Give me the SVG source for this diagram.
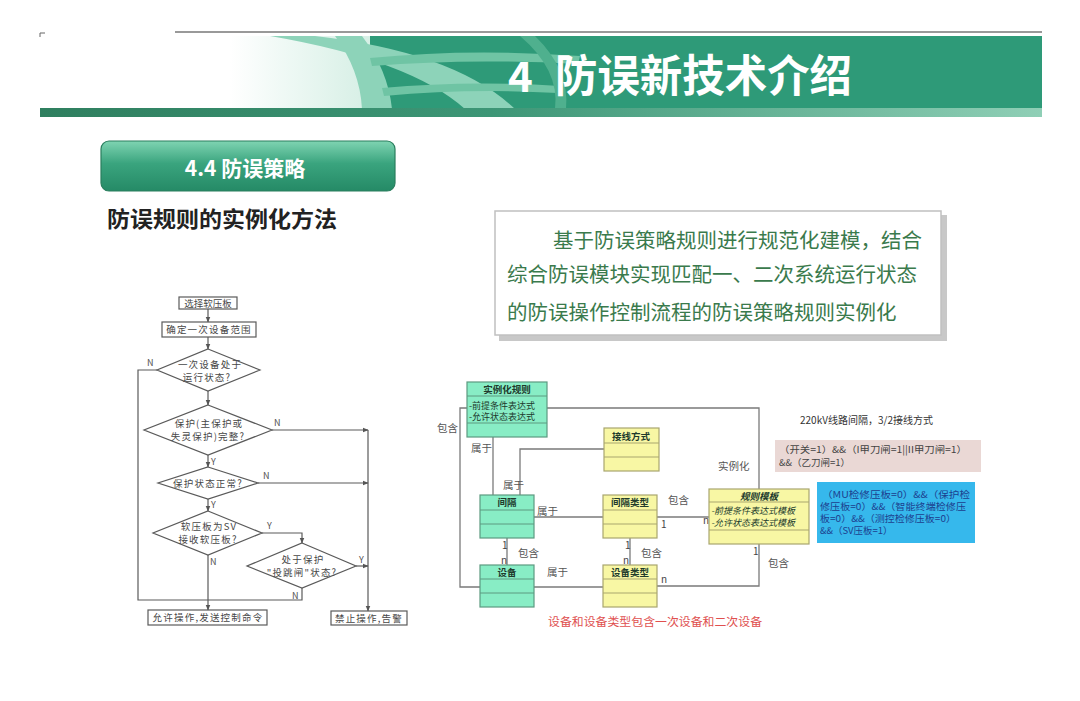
<svg xmlns="http://www.w3.org/2000/svg" width="1080" height="701" viewBox="0 0 1080 701">
<defs>
<linearGradient id="ban" x1="0" y1="0" x2="0" y2="1">
<stop offset="0" stop-color="#7fd4b2"/><stop offset="0.45" stop-color="#3aa47e"/><stop offset="1" stop-color="#258a66"/>
</linearGradient>
<linearGradient id="bar" x1="0" y1="0" x2="1" y2="0">
<stop offset="0" stop-color="#2f7f5f"/><stop offset="0.45" stop-color="#3d9676"/><stop offset="1" stop-color="#8fcfb6"/>
</linearGradient>
<linearGradient id="fade" x1="0" y1="0" x2="1" y2="0">
<stop offset="0" stop-color="#ffffff"/><stop offset="1" stop-color="#d6efe5"/>
</linearGradient>
<marker id="ar" viewBox="0 0 10 10" refX="9" refY="5" markerWidth="5" markerHeight="5" orient="auto">
<path d="M0,1 L10,5 L0,9 z" fill="#555"/>
</marker>
<clipPath id="hc"><rect x="40" y="36" width="1002" height="73"/></clipPath>
</defs>
<style>
text{font-family:"Noto Sans CJK SC","Noto Sans",sans-serif}
.fl{fill:none;stroke:#5a5a5a;stroke-width:1.2}
.ft{font-size:9.5px;fill:#474747;text-anchor:middle;letter-spacing:1.2px}
.lb{font-size:9px;fill:#505050}
.cn{fill:none;stroke:#7a7a7a;stroke-width:1.3}
.g{fill:#88edc5;stroke:#5d9a80;stroke-width:1.2}
.y{fill:#f8f7a4;stroke:#a9a66f;stroke-width:1.2}
.sep{stroke:#5d9a80;stroke-width:1}
.sepy{stroke:#a9a66f;stroke-width:1}
.ut{font-size:9.5px;font-weight:bold;fill:#203a2c;text-anchor:middle}
.ua{font-size:9px;fill:#203a2c}
.ul{font-size:10.5px;fill:#555}
.m{font-size:10px;fill:#444}
.tb{font-size:20.5px;fill:#3a7a4c}
.bt{font-size:9.5px;fill:#1d3f8f}
</style>
<rect width="1080" height="701" fill="#ffffff"/>

<g id="header">
<line x1="175" y1="32" x2="1042" y2="32" stroke="#777" stroke-width="1.5"/>
<path d="M40,33 h5 M40,33 v4" stroke="#666" stroke-width="1"/>
<g clip-path="url(#hc)">
<rect x="230" y="36" width="140" height="73" fill="url(#fade)"/>
<rect x="370" y="36" width="672" height="73" fill="#2e9a78"/>
<path d="M270,36 Q410,60 465,109 L515,109 Q455,52 315,36 z" fill="#8dd3b9"/>
<path d="M335,36 Q360,70 362,109 L392,109 Q388,70 362,36 z" fill="#8dd3b9"/>
<path d="M370,58 Q470,48 580,56 L578,64 Q470,58 372,66 z" fill="#6fc4a4"/>
<path d="M382,88 Q470,80 560,86 L558,93 Q470,88 384,96 z" fill="#6fc4a4"/>
<path d="M520,36 Q560,70 555,109 L566,109 Q570,70 535,36 z" fill="#4fb08e"/>
</g>
<rect x="40" y="108" width="1002" height="9" fill="url(#bar)"/>
<text x="508" y="92" font-size="42" font-weight="bold" fill="#ffffff">4</text>
<text x="555" y="92" font-size="44" font-weight="bold" fill="#ffffff" textLength="297" lengthAdjust="spacingAndGlyphs">防误新技术介绍</text>
</g>

<g id="banner">
<rect x="101" y="141" width="294" height="50" rx="8" fill="url(#ban)" stroke="#2a7e5e" stroke-width="1.2"/>
<text x="245" y="176" font-size="21" font-weight="bold" fill="#ffffff" text-anchor="middle">4.4 防误策略</text>
</g>
<text x="107" y="227" font-size="22" font-weight="bold" fill="#222" textLength="230" lengthAdjust="spacingAndGlyphs">防误规则的实例化方法</text>

<g id="textbox">
<rect x="499" y="215" width="448" height="126" fill="#c8c8c8"/>
<rect x="495" y="211" width="446" height="124" fill="#ffffff" stroke="#c0c0c0" stroke-width="1.5"/>
<text class="tb" x="553" y="248">基于防误策略规则进行规范化建模，结合</text>
<text class="tb" x="507" y="282">综合防误模块实现匹配一、二次系统运行状态</text>
<text class="tb" x="507" y="320">的防误操作控制流程的防误策略规则实例化</text>
</g>

<g id="flowchart">
<g id="fc-connectors">
<line class="fl" x1="208" y1="309" x2="208" y2="322" marker-end="url(#ar)"/>
<line class="fl" x1="208" y1="337" x2="208" y2="349" marker-end="url(#ar)"/>
<polyline class="fl" points="157,370 138,370 138,600 302,600 302,588"/>
<line class="fl" x1="208" y1="391" x2="208" y2="405" marker-end="url(#ar)"/>
<line class="fl" x1="272" y1="430" x2="368" y2="430" marker-end="url(#ar)"/>
<line class="fl" x1="368" y1="430" x2="368" y2="611" marker-end="url(#ar)"/>
<line class="fl" x1="208" y1="455" x2="208" y2="467" marker-end="url(#ar)"/>
<line class="fl" x1="258" y1="483" x2="368" y2="483" marker-end="url(#ar)"/>
<line class="fl" x1="208" y1="499" x2="208" y2="511" marker-end="url(#ar)"/>
<polyline class="fl" points="262,533 302,533 302,543" marker-end="url(#ar)"/>
<line class="fl" x1="356" y1="566" x2="368" y2="566" marker-end="url(#ar)"/>
<line class="fl" x1="208" y1="555" x2="208" y2="610" marker-end="url(#ar)"/>
</g>
<g id="fc-n1"><rect class="fl" x="179" y="297" width="58" height="12" fill="#fff"/><text class="ft" x="208" y="306.5" style="letter-spacing:0">选择软压板</text></g>
<g id="fc-n2"><rect class="fl" x="162" y="322" width="94" height="15" fill="#fff"/><text class="ft" x="209" y="333">确定一次设备范围</text></g>
<g id="fc-d1"><polygon class="fl" points="208,349 260,370 208,391 157,370" fill="#fff"/><text class="ft" x="210" y="368">一次设备处于</text><text class="ft" x="207" y="381">运行状态?</text></g>
<g id="fc-d2"><polygon class="fl" points="208,405 272,430 208,455 144,430" fill="#fff"/><text class="ft" x="209" y="427">保护(主保护或</text><text class="ft" x="208" y="440">失灵保护)完整?</text></g>
<g id="fc-d3"><polygon class="fl" points="208,467 258,483 208,499 158,483" fill="#fff"/><text class="ft" x="208" y="486.5">保护状态正常?</text></g>
<g id="fc-d4"><polygon class="fl" points="208,511 262,533 208,555 153,533" fill="#fff"/><text class="ft" x="209" y="530">软压板为SV</text><text class="ft" x="208" y="543">接收软压板?</text></g>
<g id="fc-d5"><polygon class="fl" points="302,543 356,566 302,588 247,566" fill="#fff"/><text class="ft" x="303" y="563">处于保护</text><text class="ft" x="302" y="576">"投跳闸"状态?</text></g>
<g id="fc-n3"><rect class="fl" x="148" y="610" width="119" height="15" fill="#fff"/><text class="ft" x="208" y="621">允许操作,发送控制命令</text></g>
<g id="fc-n4"><rect class="fl" x="331" y="611" width="76" height="14" fill="#fff"/><text class="ft" x="369" y="621.5">禁止操作,告警</text></g>
<text class="lb" x="147" y="366">N</text>
<text class="lb" x="274" y="426">N</text>
<text class="lb" x="211" y="465">Y</text>
<text class="lb" x="263" y="479">N</text>
<text class="lb" x="211" y="508">Y</text>
<text class="lb" x="267" y="529">Y</text>
<text class="lb" x="210" y="565">N</text>
<text class="lb" x="359" y="563">Y</text>
<text class="lb" x="292" y="599">N</text>
</g>

<g id="uml-connectors">
<polyline class="cn" points="547,408 759,408 759,489"/>
<polyline class="cn" points="467,408 460,408 460,587 480,587"/>
<line class="cn" x1="493" y1="437" x2="493" y2="495"/>
<polyline class="cn" points="520,495 520,449 604,449"/>
<line class="cn" x1="534" y1="517" x2="603" y2="517"/>
<line class="cn" x1="657" y1="517" x2="709" y2="517"/>
<line class="cn" x1="507" y1="538" x2="507" y2="565"/>
<line class="cn" x1="630" y1="538" x2="630" y2="565"/>
<line class="cn" x1="534" y1="587" x2="603" y2="587"/>
<polyline class="cn" points="657,586 759,586 759,544"/>
<text class="ul" x="437" y="432">包含</text>
<text class="ul" x="471" y="452">属于</text>
<text class="ul" x="503" y="489">属于</text>
<text class="ul" x="537" y="515">属于</text>
<text class="ul" x="518" y="557">包含</text>
<text class="ul" x="547" y="576">属于</text>
<text class="ul" x="641" y="557">包含</text>
<text class="ul" x="668" y="504">包含</text>
<text class="ul" x="718" y="470">实例化</text>
<text class="ul" x="768" y="567">包含</text>
<text class="m" x="502" y="549">1</text>
<text class="m" x="501" y="564">n</text>
<text class="m" x="625" y="549">1</text>
<text class="m" x="623" y="564">n</text>
<text class="m" x="661" y="528">1</text>
<text class="m" x="703" y="524">n</text>
<text class="m" x="661" y="583">n</text>
<text class="m" x="753" y="555">1</text>
</g>

<g id="uml-rule">
<rect class="g" x="467" y="382" width="80" height="55"/>
<line class="sep" x1="467" y1="396" x2="547" y2="396"/><line class="sep" x1="467" y1="423" x2="547" y2="423"/>
<text class="ut" x="507" y="393">实例化规则</text>
<text class="ua" x="469" y="408.5">-前提条件表达式</text>
<text class="ua" x="469" y="420">-允许状态表达式</text>
</g>
<g id="uml-wiring">
<rect class="y" x="604" y="428" width="55" height="43"/>
<line class="sepy" x1="604" y1="443" x2="659" y2="443"/><line class="sepy" x1="604" y1="457" x2="659" y2="457"/>
<text class="ut" x="631" y="439.5">接线方式</text>
</g>
<g id="uml-bay">
<rect class="g" x="480" y="495" width="54" height="43"/>
<line class="sep" x1="480" y1="510" x2="534" y2="510"/><line class="sep" x1="480" y1="524" x2="534" y2="524"/>
<text class="ut" x="507" y="506">间隔</text>
</g>
<g id="uml-baytype">
<rect class="y" x="603" y="495" width="54" height="43"/>
<line class="sepy" x1="603" y1="510" x2="657" y2="510"/><line class="sepy" x1="603" y1="524" x2="657" y2="524"/>
<text class="ut" x="630" y="506">间隔类型</text>
</g>
<g id="uml-device">
<rect class="g" x="480" y="565" width="54" height="42"/>
<line class="sep" x1="480" y1="579" x2="534" y2="579"/><line class="sep" x1="480" y1="593" x2="534" y2="593"/>
<text class="ut" x="507" y="576">设备</text>
</g>
<g id="uml-devtype">
<rect class="y" x="603" y="565" width="54" height="42"/>
<line class="sepy" x1="603" y1="579" x2="657" y2="579"/><line class="sepy" x1="603" y1="593" x2="657" y2="593"/>
<text class="ut" x="630" y="576">设备类型</text>
</g>
<g id="uml-template">
<rect class="y" x="709" y="489" width="100" height="55"/>
<line class="sepy" x1="709" y1="502" x2="809" y2="502"/><line class="sepy" x1="709" y1="530" x2="809" y2="530"/>
<text class="ut" x="759" y="499.5" font-style="italic">规则模板</text>
<text class="ua" x="711" y="514" font-style="italic">-前提条件表达式模板</text>
<text class="ua" x="711" y="526" font-style="italic">-允许状态表达式模板</text>
</g>

<g id="example">
<text x="800" y="424" font-size="10" fill="#333">220kV线路间隔，3/2接线方式</text>
<rect x="775" y="440" width="206" height="32" fill="#ead8d5"/>
<text x="779" y="453" font-size="9.5" fill="#444" textLength="188" lengthAdjust="spacingAndGlyphs">（开关=1）&amp;&amp;（I甲刀闸=1||II甲刀闸=1）</text>
<text x="779" y="466" font-size="9.5" fill="#444">&amp;&amp;（乙刀闸=1）</text>
<rect x="817" y="482" width="158" height="61" fill="#36b8ec"/>
<text class="bt" x="822" y="498" textLength="148" lengthAdjust="spacingAndGlyphs">（MU检修压板=0）&amp;&amp;（保护检</text>
<text class="bt" x="820" y="510" textLength="146" lengthAdjust="spacingAndGlyphs">修压板=0）&amp;&amp;（智能终端检修压</text>
<text class="bt" x="820" y="522" textLength="136" lengthAdjust="spacingAndGlyphs">板=0）&amp;&amp;（测控检修压板=0）</text>
<text class="bt" x="820" y="534">&amp;&amp;（SV压板=1）</text>
</g>
<text x="548" y="626" font-size="11.9" fill="#e0504f">设备和设备类型包含一次设备和二次设备</text>
</svg>
